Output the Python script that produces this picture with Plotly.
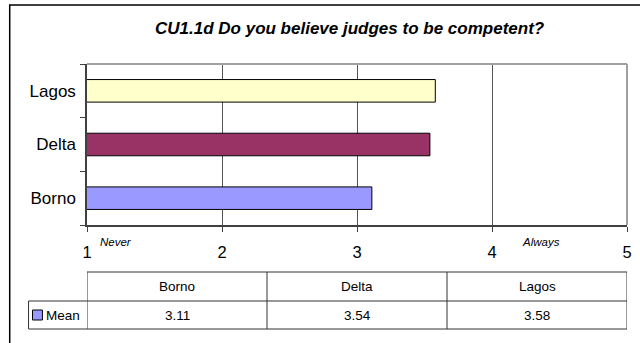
import plotly.graph_objects as go

# data
states = ["Borno", "Delta", "Lagos"]
mean_vals = [3.11, 3.54, 3.58]
bar_colors = ["#9999FF", "#993366", "#FFFFCC"]
x_ticks = [1, 2, 3, 4, 5]
series_name = "Mean"
title_text = "CU1.1d Do you believe judges to be competent?"

W, H = 640, 343
# plot area in pixels
L, R, T, B = 87, 632, 64, 225


def px(xp):
    # pixel x -> paper x
    return (xp - L) / (R - L)


def py(yp):
    # pixel y -> paper y
    return (B - yp) / (B - T)


fig = go.Figure()
fig.add_trace(go.Bar(
    x=mean_vals, y=states, orientation="h",
    marker=dict(color=bar_colors, line=dict(color="black", width=1)),
    width=0.42, base=0, showlegend=False, hoverinfo="x+y",
))

shapes = []
# outer chart border (clipped by the window on right/bottom)
shapes.append(dict(type="rect", xref="paper", yref="paper",
                   x0=px(9), x1=px(660), y0=py(5), y1=py(360),
                   line=dict(color="black", width=1.5), layer="below"))
# plot area border top/right
shapes.append(dict(type="line", xref="paper", yref="paper", x0=0, x1=1, y0=1, y1=1,
                   line=dict(color="#a0a0a0", width=2)))
shapes.append(dict(type="line", xref="paper", yref="paper", x0=1, x1=1, y0=0, y1=1,
                   line=dict(color="#a0a0a0", width=2)))

# data table below the chart
row_top, row_mid, row_bot = 272, 301, 329
col_edges = [1 + i * (5 - 1) / len(states) for i in range(len(states) + 1)]
tline = dict(color="#333333", width=1)
for yy in (row_top, row_mid, row_bot):
    x_start = px(28) if yy != row_top else 0
    shapes.append(dict(type="line", xref="paper", yref="paper",
                       x0=x_start, x1=1, y0=py(yy), y1=py(yy), line=tline))
for ce in col_edges:
    shapes.append(dict(type="line", xref="x", yref="paper",
                       x0=ce, x1=ce, y0=py(row_top), y1=py(row_bot), line=tline))
shapes.append(dict(type="line", xref="paper", yref="paper",
                   x0=px(28), x1=px(28), y0=py(row_mid), y1=py(row_bot), line=tline))
# legend swatch
shapes.append(dict(type="rect", xref="paper", yref="paper",
                   x0=px(32), x1=px(42), y0=py(310), y1=py(320),
                   fillcolor=bar_colors[0], line=dict(color="black", width=1)))

annotations = []


def note(text, x, y, size, xref="paper", xanchor="center"):
    annotations.append(dict(text=text, xref=xref, yref="paper", x=x, y=y,
                            xanchor=xanchor, yanchor="middle", showarrow=False,
                            font=dict(size=size, color="black")))


note(f"<b><i>{title_text}</i></b>", px(352), py(28), 17)
note("<i>Never</i>", 1.08, py(242), 11.5, xref="x", xanchor="left")
note("<i>Always</i>", 4.52, py(242), 11.5, xref="x", xanchor="right")
for i, (s, v) in enumerate(zip(states, mean_vals)):
    cx = (col_edges[i] + col_edges[i + 1]) / 2
    note(s, cx, py((row_top + row_mid) / 2), 13.5, xref="x")
    note(f"{v:.2f}", cx, py((row_mid + row_bot) / 2), 13.5, xref="x")
note(series_name, px(44), py(315.5), 13.5, xanchor="left")

fig.update_layout(
    width=W, height=H,
    margin=dict(l=L, r=W - R, t=T, b=H - B, pad=0),
    paper_bgcolor="white", plot_bgcolor="white",
    font=dict(family="Liberation Sans, Arial, sans-serif", color="black"),
    bargap=0.58,
    xaxis=dict(range=[1, 5], tickvals=x_ticks, ticks="outside", ticklen=5,
               tickcolor="#404040", showline=True, linecolor="#404040", linewidth=1.5,
               showgrid=True, gridcolor="#555555", gridwidth=1, zeroline=False,
               tickfont=dict(size=16.5), ticklabelstandoff=6, fixedrange=True),
    yaxis=dict(categoryorder="array", categoryarray=states, ticks="outside",
               tickson="boundaries", ticklen=5, tickcolor="#404040",
               showline=True, linecolor="#404040", linewidth=1.5, showgrid=False,
               tickfont=dict(size=17), ticklabelstandoff=6, fixedrange=True),
    shapes=shapes, annotations=annotations,
)

# drop the browser's default body margin so the figure sits at the page corner
fig.write_html("out.html", config={"displayModeBar": False},
               post_script="document.body.style.margin='0';")
